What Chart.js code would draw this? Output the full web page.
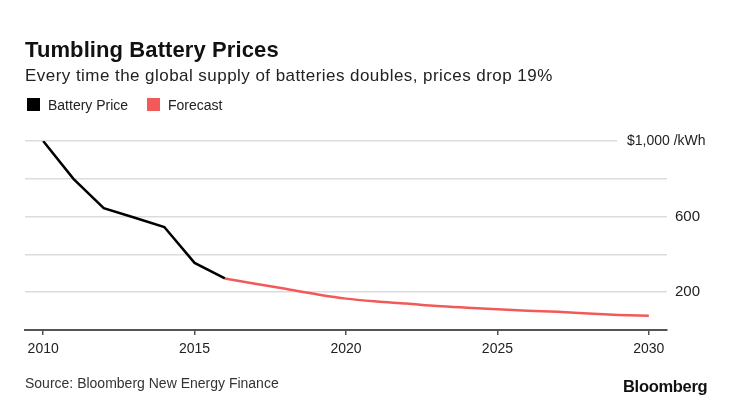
<!DOCTYPE html>
<html>
<head>
<meta charset="utf-8">
<script src="https://cdn.jsdelivr.net/npm/chart.js@4"></script>
<style>
  body { margin: 0; background: #fff; font-family: "Liberation Sans", Arial, sans-serif; }
  #wrap { position: relative; width: 740px; height: 419px; overflow: hidden; }
  canvas { position: absolute; left: 0; top: 0; }
  .txt { position: absolute; white-space: nowrap; color: #111; }
  #title { left: 25px; top: 40px; font-size: 22px; font-weight: bold; line-height: 20px; letter-spacing: 0.1px; }
  #sub { left: 25px; top: 68px; font-size: 17px; line-height: 16px; color: #222; letter-spacing: 0.45px; }
  #legend { left: 27px; top: 98px; font-size: 14px; line-height: 14px; color: #222; }
  #legend span.box { display: inline-block; width: 13px; height: 13px; vertical-align: top; margin-right: 8px; }
  #legend span.item { margin-right: 15px; }
  #source { left: 25px; top: 376px; font-size: 14px; line-height: 14px; color: #333; }
  #logo { left: 623px; top: 378px; font-size: 16.5px; font-weight: bold; line-height: 16px; letter-spacing: -0.3px; }
</style>
</head>
<body>
<div id="wrap">
  <canvas id="chart" width="740" height="419"></canvas>
  <div class="txt" id="title">Tumbling Battery Prices</div>
  <div class="txt" id="sub">Every time the global supply of batteries doubles, prices drop 19%</div>
  <div class="txt" id="legend">
    <span class="box" style="background:#000"></span><span class="item">Battery Price</span>
    <span class="box" style="background:#f25a5a"></span><span>Forecast</span>
  </div>
  <div class="txt" id="source">Source: Bloomberg New Energy Finance</div>
  <div class="txt" id="logo">Bloomberg</div>
</div>
<script>
// 實際電池價格 ($/kWh)
const priceYears = [2010, 2011, 2012, 2013, 2014, 2015, 2016];
const priceValues = [1000, 800, 645, 595, 545, 355, 273];
// 預測
const forecastYears = [2016, 2017, 2018, 2019, 2020, 2021, 2022, 2023, 2024, 2025, 2026, 2027, 2028, 2029, 2030];
const forecastValues = [273, 245, 218, 190, 166, 151, 140, 127, 118, 110, 102, 96, 87, 80, 75];
// 刻度
const xTicks = [2010, 2015, 2020, 2025, 2030];
const yTicks = [0, 200, 400, 600, 800, 1000];
const yLabels = { 200: '200', 600: '600' };

const unitLabel = {
    id: 'unitLabel',
    afterDraw(chart) {
        const ctx = chart.ctx;
        const y = chart.scales.y.getPixelForValue(1000);
        ctx.save();
        ctx.fillStyle = '#fff';
        ctx.fillRect(617, y - 3, 60, 6);
        ctx.fillStyle = '#222';
        ctx.font = '14px "Liberation Sans", Arial, sans-serif';
        ctx.textBaseline = 'middle';
        ctx.fillText('$1,000 /kWh', 627, y);
        ctx.restore();
    }
};

new Chart(document.getElementById('chart'), {
    type: 'line',
    data: {
        datasets: [{
            label: 'Battery Price',
            data: priceYears.map((x, i) => ({ x: x, y: priceValues[i] })),
            borderColor: '#000',
            borderWidth: 2.5,
            pointRadius: 0,
            tension: 0
        }, {
            label: 'Forecast',
            data: forecastYears.map((x, i) => ({ x: x, y: forecastValues[i] })),
            borderColor: '#f25a5a',
            borderWidth: 2.5,
            pointRadius: 0,
            cubicInterpolationMode: 'monotone'
        }]
    },
    options: {
        responsive: false,
        animation: false,
        layout: {
            padding: { left: 25, top: 141, right: 0, bottom: 0 }
        },
        plugins: {
            legend: { display: false },
            tooltip: { enabled: false }
        },
        scales: {
            x: {
                type: 'linear',
                min: 2009.4,
                max: 2030.6,
                afterBuildTicks: scale => { scale.ticks = xTicks.map(v => ({ value: v })); },
                afterFit: scale => { scale.height = 89; },
                grid: {
                    drawOnChartArea: false,
                    tickLength: 5,
                    color: '#555',
                    lineWidth: 1.5
                },
                border: { color: '#555', width: 2 },
                ticks: {
                    padding: 6,
                    color: '#222',
                    font: { size: 14, family: '"Liberation Sans", Arial, sans-serif' },
                    callback: v => String(v)
                }
            },
            y: {
                position: 'right',
                min: 0,
                max: 1000,
                afterBuildTicks: scale => { scale.ticks = yTicks.map(v => ({ value: v })); },
                afterFit: scale => { scale.width = 73; },
                grid: {
                    drawTicks: false,
                    color: '#dcdcdc',
                    lineWidth: 1.5
                },
                border: { display: false },
                ticks: {
                    padding: 8,
                    color: '#222',
                    font: { size: 15, family: '"Liberation Sans", Arial, sans-serif' },
                    callback: v => yLabels[v] || ''
                }
            }
        }
    },
    plugins: [unitLabel]
});
</script>
</body>
</html>
